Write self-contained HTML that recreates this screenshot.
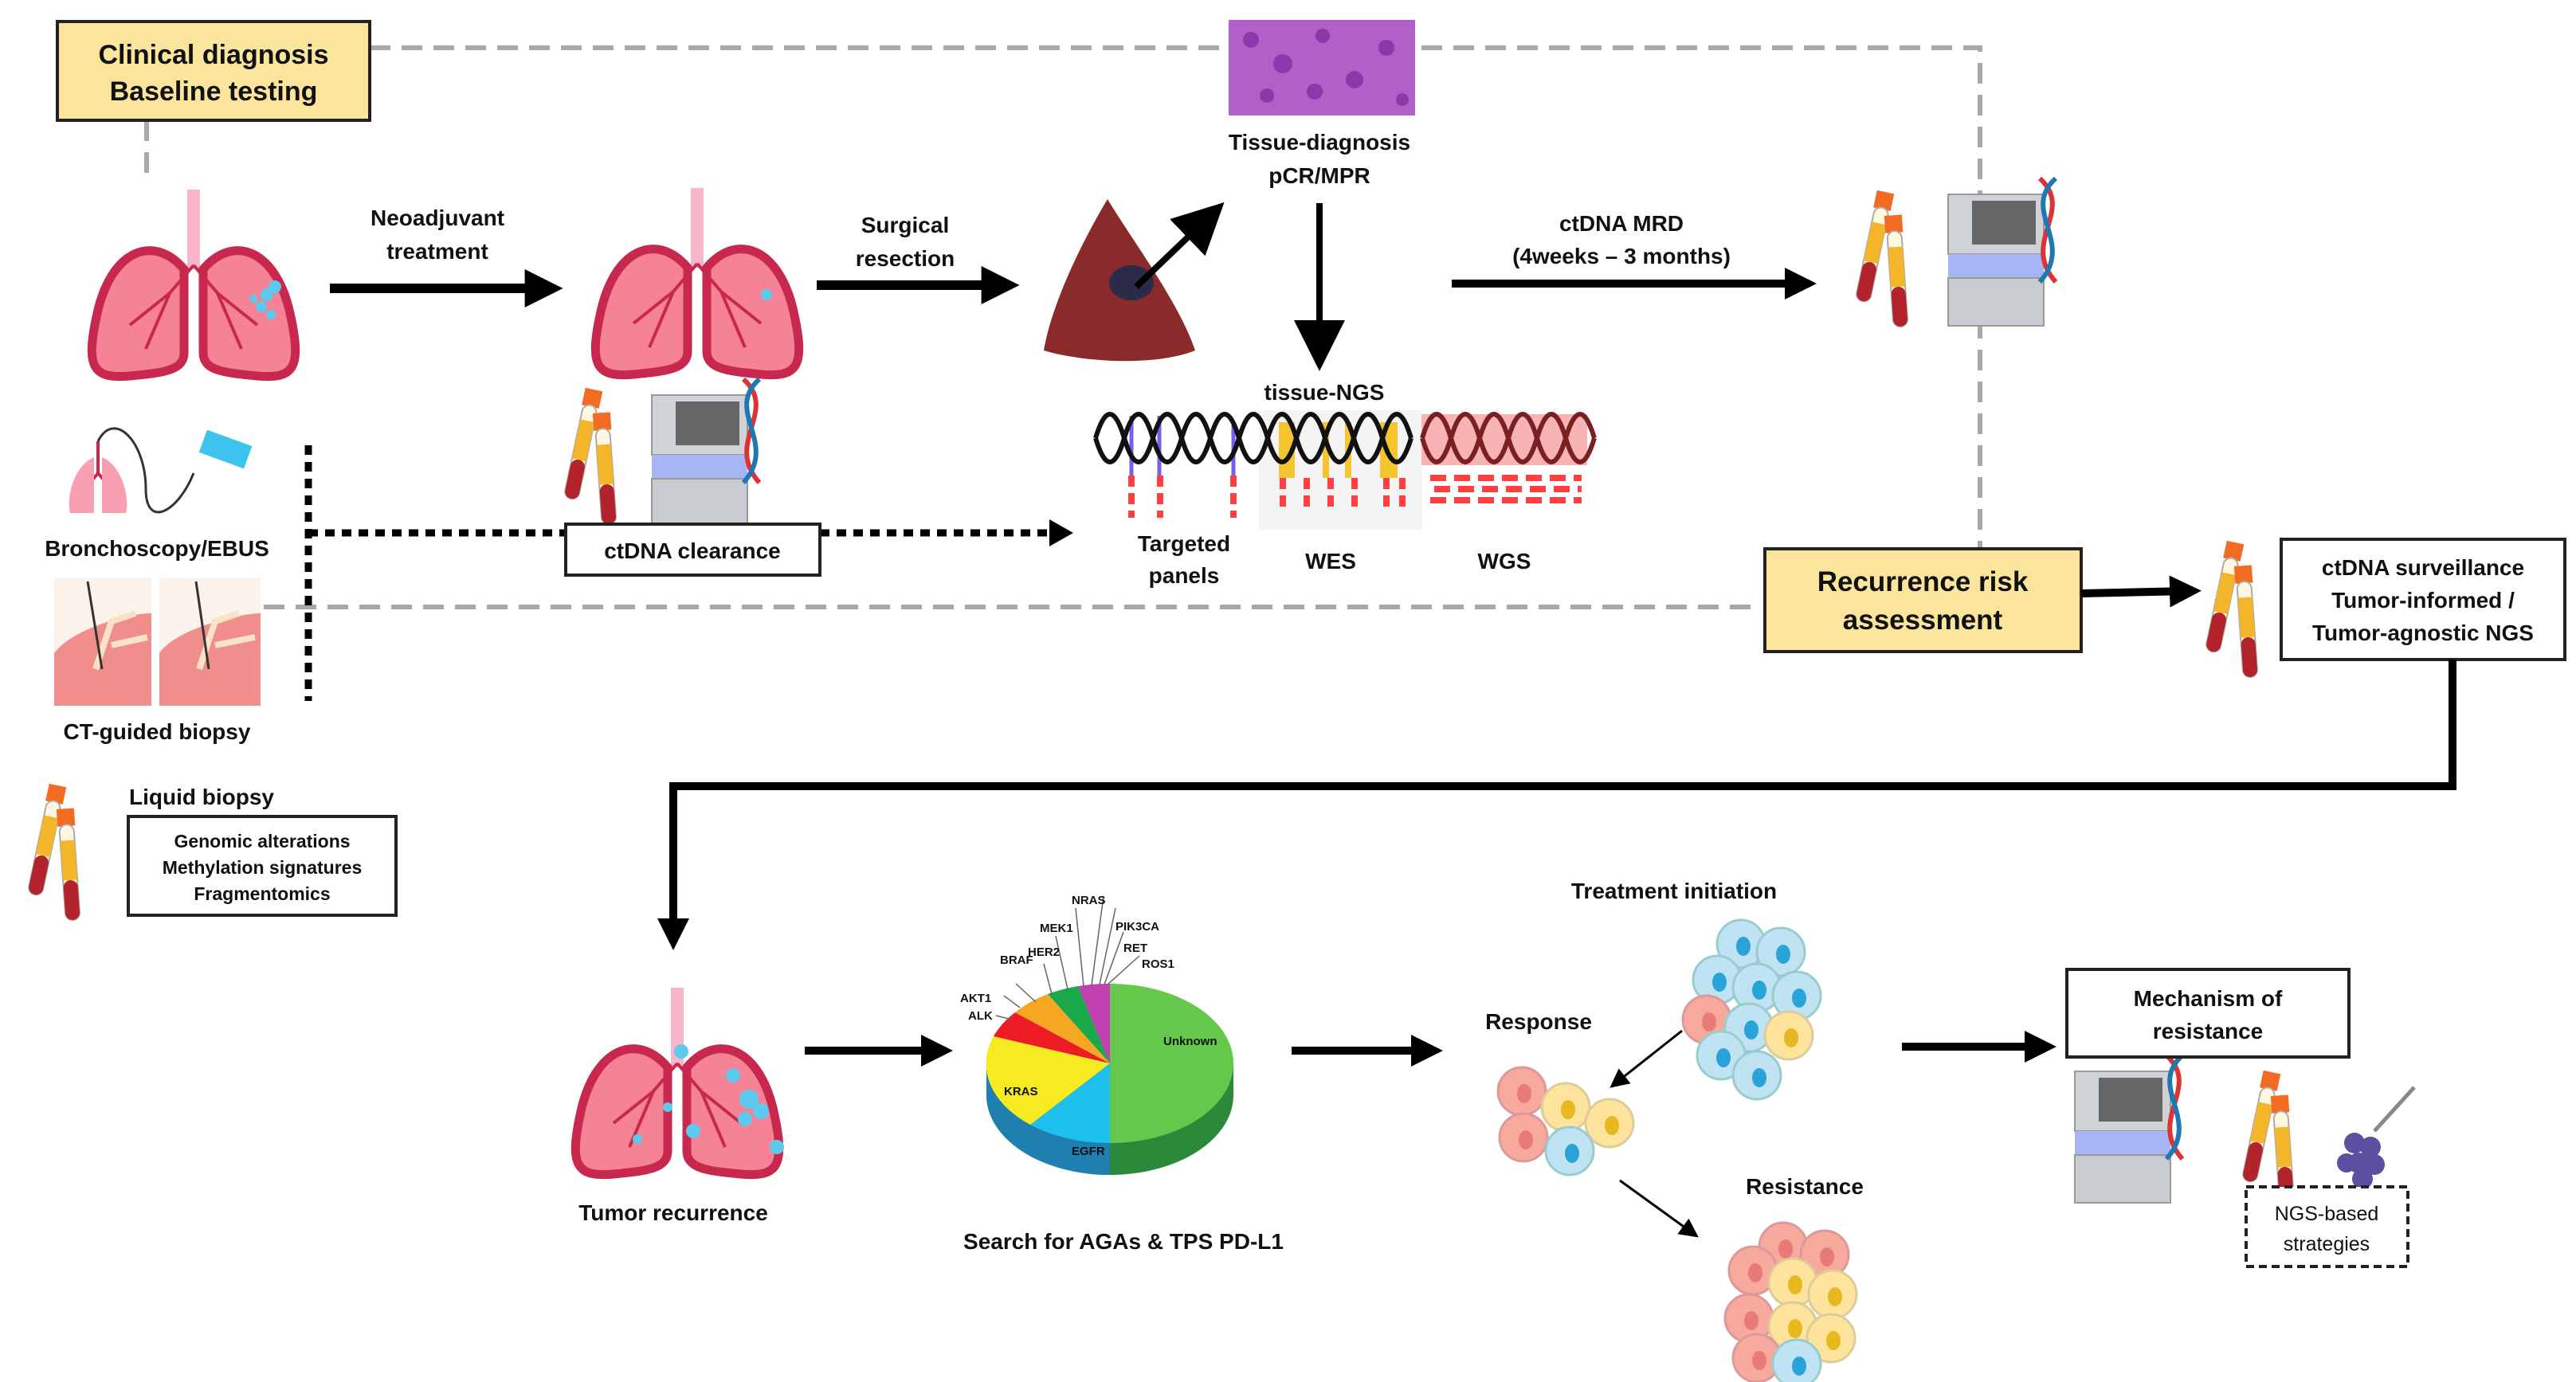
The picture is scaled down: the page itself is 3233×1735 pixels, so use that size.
<!DOCTYPE html>
<html><head><meta charset="utf-8"><style>
html,body{margin:0;padding:0;background:#fff;}
svg{display:block;}
text{font-family:"Liberation Sans Narrow","Liberation Sans",sans-serif;font-weight:bold;fill:#111;font-stretch:condensed;}
</style></head><body>
<svg width="3233" height="1735" viewBox="0 0 3233 1735" xmlns="http://www.w3.org/2000/svg">
<defs>
<marker id="ah" markerWidth="4" markerHeight="4" refX="2.2" refY="2" orient="auto" markerUnits="strokeWidth"><path d="M0,0 L4,2 L0,4 z" fill="#000"/></marker>
<marker id="ahs" markerWidth="8" markerHeight="8" refX="6" refY="4" orient="auto" markerUnits="strokeWidth"><path d="M0,0 L8,4 L0,8 z" fill="#000"/></marker>
<g id="lung">
<rect x="132" y="0" width="16" height="100" fill="#f9b6c8"/>
<path d="M128 100 C90 55 35 75 18 160 C4 225 15 238 60 234 C100 230 128 228 128 205 Z" fill="#f58295" stroke="#c8284e" stroke-width="11"/>
<path d="M152 100 C190 55 245 75 262 160 C276 225 265 238 220 234 C180 230 152 228 152 205 Z" fill="#f58295" stroke="#c8284e" stroke-width="11"/>
<path d="M140 95 L110 130 L80 200 M110 130 L60 170 M140 95 L170 130 L200 200 M170 130 L220 170" stroke="#c8284e" stroke-width="4" fill="none"/>
</g>
<g id="tubes">
<g transform="rotate(12 20 60)"><rect x="8" y="0" width="22" height="22" fill="#f26b21"/><rect x="10" y="20" width="18" height="120" rx="9" fill="#fff7e0" stroke="#aaa" stroke-width="2"/><rect x="10" y="90" width="18" height="50" rx="9" fill="#b3232b"/><rect x="10" y="40" width="18" height="50" fill="#f3b52a"/></g>
<g transform="translate(26,30) rotate(-4 20 60)"><rect x="8" y="0" width="22" height="22" fill="#f26b21"/><rect x="10" y="20" width="18" height="120" rx="9" fill="#fff7e0" stroke="#aaa" stroke-width="2"/><rect x="10" y="90" width="18" height="50" rx="9" fill="#b3232b"/><rect x="10" y="40" width="18" height="50" fill="#f3b52a"/></g>
</g>
<g id="seq">
<rect x="0" y="20" width="120" height="75" fill="#cfd2d6" stroke="#999" stroke-width="2"/>
<rect x="30" y="28" width="80" height="55" fill="#666"/>
<rect x="0" y="95" width="120" height="30" fill="#a8b5f5"/>
<rect x="0" y="125" width="120" height="60" fill="#c8cbcf" stroke="#999" stroke-width="2"/>
<path d="M115 0 C160 40 90 80 135 130" stroke="#d33" stroke-width="6" fill="none"/>
<path d="M135 0 C90 40 160 80 115 130" stroke="#1f78b4" stroke-width="6" fill="none"/>
</g>
<g id="cellB"><circle r="30" fill="#bfe3f3" stroke="#9cc" stroke-width="3"/><ellipse cx="3" cy="3" rx="9" ry="12" fill="#2aa3d8"/></g>
<g id="cellR"><circle r="30" fill="#f6a99c" stroke="#d99" stroke-width="3"/><ellipse cx="3" cy="3" rx="9" ry="12" fill="#e87a7a"/></g>
<g id="cellY"><circle r="30" fill="#fde39c" stroke="#dc9" stroke-width="3"/><ellipse cx="3" cy="3" rx="9" ry="12" fill="#e8b820"/></g>
</defs>

<g stroke="#a9a9a9" stroke-width="6" stroke-dasharray="26,14" fill="none">
<path d="M464 60 L2485 60 L2485 762"/>
<path d="M331 762 L2211 762"/>
<path d="M184 151 L184 225"/>
</g>

<rect x="72" y="27" width="392" height="124" fill="#fbe49b" stroke="#222" stroke-width="4"/>
<text x="268" y="80" font-size="34" text-anchor="middle">Clinical diagnosis</text>
<text x="268" y="126" font-size="34" text-anchor="middle">Baseline testing</text>

<use href="#lung" x="103" y="238"/>
<g fill="#5cc9ef"><circle cx="335" cy="370" r="8"/><circle cx="345" cy="360" r="8"/><circle cx="328" cy="385" r="7"/><circle cx="318" cy="375" r="5"/><circle cx="340" cy="395" r="6"/></g>
<use href="#lung" x="735" y="236"/>
<circle cx="962" cy="370" r="7" fill="#5cc9ef"/>

<line x1="414" y1="362" x2="685" y2="362" stroke="#000" stroke-width="12" marker-end="url(#ah)"/>
<text x="549" y="283" font-size="28" text-anchor="middle">Neoadjuvant</text>
<text x="549" y="325" font-size="28" text-anchor="middle">treatment</text>
<line x1="1025" y1="358" x2="1258" y2="358" stroke="#000" stroke-width="12" marker-end="url(#ah)"/>
<text x="1136" y="292" font-size="28" text-anchor="middle">Surgical</text>
<text x="1136" y="334" font-size="28" text-anchor="middle">resection</text>

<path d="M1390 250 C1420 300 1480 380 1500 440 C1450 460 1360 455 1310 440 C1320 380 1360 300 1390 250 Z" fill="#8a2a2a"/>
<ellipse cx="1420" cy="355" rx="28" ry="22" fill="#2a2a4a"/>
<line x1="1426" y1="360" x2="1525" y2="265" stroke="#000" stroke-width="8" marker-end="url(#ahs)"/>

<rect x="1542" y="25" width="234" height="120" fill="#b35fc8"/>
<g fill="#7a2aa0" opacity="0.7"><circle cx="1570" cy="50" r="10"/><circle cx="1610" cy="80" r="12"/><circle cx="1660" cy="45" r="9"/><circle cx="1700" cy="100" r="11"/><circle cx="1740" cy="60" r="10"/><circle cx="1590" cy="120" r="9"/><circle cx="1650" cy="115" r="10"/><circle cx="1760" cy="125" r="8"/></g>
<text x="1656" y="188" font-size="28" text-anchor="middle">Tissue-diagnosis</text>
<text x="1656" y="230" font-size="28" text-anchor="middle">pCR/MPR</text>
<line x1="1656" y1="255" x2="1656" y2="450" stroke="#000" stroke-width="8" marker-end="url(#ahs)"/>
<text x="1662" y="502" font-size="28" text-anchor="middle">tissue-NGS</text>

<rect x="1580" y="515" width="205" height="150" fill="#f4f4f4"/>
<rect x="1784" y="520" width="208" height="64" fill="#f8b4b4"/>
<g fill="#f5c431"><rect x="1605" y="530" width="20" height="70"/><rect x="1660" y="530" width="8" height="70"/><rect x="1688" y="530" width="8" height="70"/><rect x="1732" y="530" width="22" height="70"/></g>
<g stroke="#7b5cf0" stroke-width="5"><line x1="1420" y1="522" x2="1420" y2="598"/><line x1="1455" y1="522" x2="1455" y2="598"/><line x1="1548" y1="533" x2="1548" y2="598"/></g>
<path d="M1375 550 Q1393 490 1411 550 T1447 550 T1483 550 T1519 550 T1555 550 T1591 550 T1627 550 T1663 550 T1699 550 T1735 550 T1771 550" stroke="#111" stroke-width="6" fill="none"/>
<path d="M1375 550 Q1393 610 1411 550 T1447 550 T1483 550 T1519 550 T1555 550 T1591 550 T1627 550 T1663 550 T1699 550 T1735 550 T1771 550" stroke="#111" stroke-width="6" fill="none"/>
<path d="M1785 550 Q1803 490 1821 550 T1857 550 T1893 550 T1929 550 T1965 550 T2001 550 M1785 550 Q1803 610 1821 550 T1857 550 T1893 550 T1929 550 T1965 550 T2001 550" stroke="#7a2020" stroke-width="6" fill="none"/>
<g stroke="#ff4040" stroke-width="8" stroke-dasharray="14,8">
<line x1="1420" y1="597" x2="1420" y2="650"/><line x1="1456" y1="597" x2="1456" y2="650"/><line x1="1548" y1="597" x2="1548" y2="650"/>
<line x1="1610" y1="600" x2="1610" y2="640"/><line x1="1640" y1="600" x2="1640" y2="640"/><line x1="1670" y1="600" x2="1670" y2="640"/><line x1="1700" y1="600" x2="1700" y2="640"/><line x1="1740" y1="600" x2="1740" y2="640"/><line x1="1760" y1="600" x2="1760" y2="640"/>
</g>
<g stroke="#ff4040" stroke-width="8" stroke-dasharray="20,10"><line x1="1795" y1="600" x2="1985" y2="600"/><line x1="1800" y1="614" x2="1985" y2="614"/><line x1="1795" y1="628" x2="1985" y2="628"/></g>
<text x="1486" y="692" font-size="28" text-anchor="middle">Targeted</text>
<text x="1486" y="732" font-size="28" text-anchor="middle">panels</text>
<text x="1670" y="714" font-size="28" text-anchor="middle">WES</text>
<text x="1888" y="714" font-size="28" text-anchor="middle">WGS</text>

<g transform="translate(83,534)">
<path d="M40 20 L40 60 M40 60 L15 90 M40 60 L65 90" stroke="#c8284e" stroke-width="4"/>
<path d="M35 40 C10 50 0 90 5 110 L35 110 Z M45 40 C70 50 80 90 75 110 L45 110 Z" fill="#f6a0b2"/>
<path d="M40 20 C60 -20 100 20 100 80 C100 130 140 110 160 60" stroke="#333" stroke-width="3" fill="none"/>
<rect x="170" y="15" width="60" height="30" fill="#3ec3ef" transform="rotate(20 200 30)"/>
</g>
<text x="197" y="698" font-size="28" text-anchor="middle">Bronchoscopy/EBUS</text>
<g>
<rect x="68" y="725" width="122" height="161" fill="#fcf3ec"/><rect x="200" y="725" width="127" height="161" fill="#fcf3ec"/>
<path d="M68 820 C90 790 160 770 190 770 L190 886 L68 886 Z" fill="#ef8e8a"/>
<path d="M200 820 C220 790 300 770 327 770 L327 886 L200 886 Z" fill="#ef8e8a"/>
<path d="M120 840 L140 780 L170 770 M140 810 L185 800 M250 840 L270 780 L300 770 M270 810 L320 800" stroke="#f8e2c8" stroke-width="8" fill="none"/>
<line x1="110" y1="730" x2="128" y2="840" stroke="#333" stroke-width="3"/><line x1="246" y1="730" x2="262" y2="840" stroke="#333" stroke-width="3"/>
</g>
<text x="197" y="928" font-size="28" text-anchor="middle">CT-guided biopsy</text>

<line x1="387" y1="559" x2="387" y2="880" stroke="#000" stroke-width="9" stroke-dasharray="12,9"/>
<line x1="387" y1="669" x2="710" y2="669" stroke="#000" stroke-width="9" stroke-dasharray="12,9"/>
<line x1="1029" y1="669" x2="1320" y2="669" stroke="#000" stroke-width="9" stroke-dasharray="12,9"/>
<path d="M1317 652 L1347 669 L1317 686 Z" fill="#000"/>
<use href="#tubes" x="714" y="488"/>
<use href="#seq" x="818" y="476"/>
<rect x="710" y="658" width="319" height="64" fill="#fff" stroke="#222" stroke-width="4"/>
<text x="869" y="701" font-size="28" text-anchor="middle">ctDNA clearance</text>

<use href="#tubes" x="41" y="985"/>
<text x="162" y="1010" font-size="28">Liquid biopsy</text>
<rect x="161" y="1025" width="336" height="124" fill="#fff" stroke="#222" stroke-width="4"/>
<text x="329" y="1064" font-size="23" text-anchor="middle">Genomic alterations</text>
<text x="329" y="1097" font-size="23" text-anchor="middle">Methylation signatures</text>
<text x="329" y="1130" font-size="23" text-anchor="middle">Fragmentomics</text>

<line x1="1822" y1="356" x2="2262" y2="356" stroke="#000" stroke-width="10" marker-end="url(#ah)"/>
<text x="2035" y="290" font-size="28" text-anchor="middle">ctDNA MRD</text>
<text x="2035" y="331" font-size="28" text-anchor="middle">(4weeks – 3 months)</text>
<use href="#tubes" x="2335" y="240"/>
<use href="#seq" x="2445" y="224"/>

<rect x="2215" y="689" width="397" height="129" fill="#fbe49b" stroke="#222" stroke-width="4"/>
<text x="2413" y="742" font-size="35" text-anchor="middle">Recurrence risk</text>
<text x="2413" y="790" font-size="35" text-anchor="middle">assessment</text>
<line x1="2612" y1="745" x2="2745" y2="742" stroke="#000" stroke-width="10" marker-end="url(#ah)"/>
<use href="#tubes" x="2774" y="680"/>
<rect x="2863" y="677" width="356" height="151" fill="#fff" stroke="#222" stroke-width="4"/>
<text x="3041" y="722" font-size="28" text-anchor="middle">ctDNA surveillance</text>
<text x="3041" y="763" font-size="28" text-anchor="middle">Tumor-informed /</text>
<text x="3041" y="804" font-size="28" text-anchor="middle">Tumor-agnostic NGS</text>
<path d="M3078 828 L3078 987 L845 987 L845 1175" stroke="#000" stroke-width="10" fill="none" marker-end="url(#ah)"/>

<use href="#lung" x="710" y="1240"/>
<g fill="#5cc9ef"><circle cx="855" cy="1320" r="9"/><circle cx="920" cy="1350" r="9"/><circle cx="940" cy="1380" r="12"/><circle cx="955" cy="1395" r="10"/><circle cx="935" cy="1405" r="9"/><circle cx="870" cy="1420" r="9"/><circle cx="975" cy="1440" r="9"/><circle cx="838" cy="1390" r="6"/><circle cx="800" cy="1430" r="6"/></g>
<text x="845" y="1532" font-size="28" text-anchor="middle">Tumor recurrence</text>
<line x1="1010" y1="1319" x2="1178" y2="1319" stroke="#000" stroke-width="10" marker-end="url(#ah)"/>

<path d="M1238 1335 L1238 1375 A155 100 0 0 0 1548 1375 L1548 1335 Z" fill="#2a8a3a"/>
<path d="M1238 1335 L1238 1375 A155 100 0 0 0 1393 1475 L1393 1435 A155 100 0 0 1 1238 1335Z" fill="#1f7fb0"/>
<path d="M1393 1335 L1393 1235 A155 100 0 0 1 1393 1435 Z" fill="#66c84a"/>
<path d="M1393 1335 L1393 1435 A155 100 0 0 1 1293 1412 Z" fill="#1ec0ee"/>
<path d="M1393 1335 L1293 1412 A155 100 0 0 1 1247 1301 Z" fill="#f6ea20"/>
<path d="M1393 1335 L1247 1301 A155 100 0 0 1 1274 1271 Z" fill="#ee1c24"/>
<path d="M1393 1335 L1274 1271 A155 100 0 0 1 1315 1248 Z" fill="#f5a623"/>
<path d="M1393 1335 L1315 1248 A155 100 0 0 1 1353 1238 Z" fill="#19a84a"/>
<path d="M1393 1335 L1353 1238 A155 100 0 0 1 1393 1235 Z" fill="#c23fb0"/>
<g stroke="#666" stroke-width="1.5">
<line x1="1300" y1="1258" x2="1275" y2="1235"/><line x1="1320" y1="1248" x2="1310" y2="1210"/><line x1="1340" y1="1242" x2="1325" y2="1175"/><line x1="1360" y1="1238" x2="1350" y2="1140"/><line x1="1370" y1="1237" x2="1385" y2="1125"/><line x1="1380" y1="1236" x2="1400" y2="1140"/><line x1="1386" y1="1236" x2="1410" y2="1170"/><line x1="1390" y1="1236" x2="1430" y2="1200"/><line x1="1280" y1="1265" x2="1260" y2="1250"/><line x1="1270" y1="1280" x2="1250" y2="1275"/>
</g>
<g font-size="15" fill="#444" style="font-weight:normal">
<text x="1460" y="1312">Unknown</text><text x="1345" y="1450">EGFR</text><text x="1260" y="1375">KRAS</text>
<text x="1215" y="1280">ALK</text><text x="1205" y="1258">AKT1</text><text x="1255" y="1210">BRAF</text><text x="1290" y="1200">HER2</text>
<text x="1305" y="1170">MEK1</text><text x="1345" y="1135">NRAS</text><text x="1400" y="1168">PIK3CA</text><text x="1410" y="1195">RET</text><text x="1433" y="1215">ROS1</text>
</g>
<text x="1410" y="1568" font-size="28" text-anchor="middle">Search for AGAs &amp; TPS PD-L1</text>
<line x1="1621" y1="1319" x2="1793" y2="1319" stroke="#000" stroke-width="10" marker-end="url(#ah)"/>

<text x="2101" y="1128" font-size="28" text-anchor="middle">Treatment initiation</text>
<g>
<use href="#cellB" x="2185" y="1185"/><use href="#cellB" x="2235" y="1195"/><use href="#cellB" x="2155" y="1230"/><use href="#cellB" x="2205" y="1240"/>
<use href="#cellB" x="2255" y="1250"/><use href="#cellR" x="2142" y="1280"/><use href="#cellB" x="2195" y="1290"/><use href="#cellY" x="2245" y="1300"/><use href="#cellB" x="2160" y="1325"/><use href="#cellB" x="2205" y="1350"/>
</g>
<text x="1931" y="1292" font-size="28" text-anchor="middle">Response</text>
<use href="#cellR" x="1910" y="1370"/><use href="#cellY" x="1965" y="1390"/><use href="#cellR" x="1912" y="1428"/><use href="#cellY" x="2020" y="1410"/><use href="#cellB" x="1970" y="1445"/>
<line x1="2111" y1="1294" x2="2025" y2="1362" stroke="#000" stroke-width="3" marker-end="url(#ahs)"/>
<line x1="2033" y1="1482" x2="2127" y2="1550" stroke="#000" stroke-width="3" marker-end="url(#ahs)"/>
<text x="2265" y="1499" font-size="28" text-anchor="middle">Resistance</text>
<use href="#cellR" x="2238" y="1565"/><use href="#cellR" x="2290" y="1575"/><use href="#cellR" x="2200" y="1595"/><use href="#cellY" x="2250" y="1610"/><use href="#cellY" x="2300" y="1625"/>
<use href="#cellR" x="2195" y="1655"/><use href="#cellY" x="2250" y="1665"/><use href="#cellY" x="2298" y="1680"/><use href="#cellR" x="2205" y="1705"/><use href="#cellB" x="2255" y="1712"/>

<line x1="2387" y1="1314" x2="2563" y2="1314" stroke="#000" stroke-width="10" marker-end="url(#ah)"/>
<use href="#seq" x="2604" y="1325"/>
<rect x="2594" y="1217" width="354" height="110" fill="#fff" stroke="#222" stroke-width="4"/>
<text x="2771" y="1263" font-size="28" text-anchor="middle">Mechanism of</text>
<text x="2771" y="1304" font-size="28" text-anchor="middle">resistance</text>
<use href="#tubes" x="2820" y="1345"/>
<g fill="#5a4fa0"><circle cx="2955" cy="1435" r="13"/><circle cx="2975" cy="1440" r="13"/><circle cx="2960" cy="1460" r="13"/><circle cx="2980" cy="1462" r="13"/><circle cx="2965" cy="1480" r="13"/><circle cx="2945" cy="1460" r="12"/></g>
<line x1="2980" y1="1420" x2="3030" y2="1365" stroke="#888" stroke-width="5"/>
<rect x="2819" y="1490" width="203" height="100" fill="#fff" stroke="#222" stroke-width="4" stroke-dasharray="10,6"/>
<text x="2920" y="1532" font-size="25" text-anchor="middle" style="font-weight:normal">NGS-based</text>
<text x="2920" y="1570" font-size="25" text-anchor="middle" style="font-weight:normal">strategies</text>
</svg>
</body></html>
